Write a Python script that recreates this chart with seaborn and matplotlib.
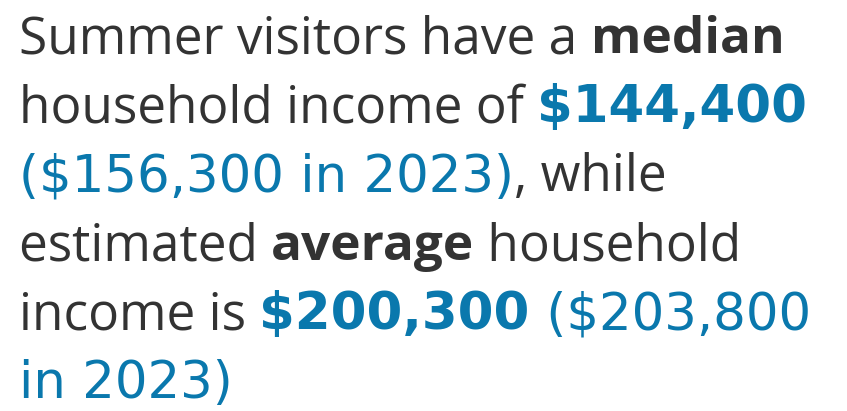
import matplotlib
matplotlib.use("Agg")
import matplotlib.pyplot as plt
import seaborn as sns

# values quoted in the callout
median_income = 144400
median_income_2023 = 156300
average_income = 200300
average_income_2023 = 203800

DARK = "#333333"
BLUE = "#0a78ad"


def money(v):
    return f"${v:,}"


# each line is a list of (text, weight, colour)
lines = [
    [("Summer visitors have a ", "normal", DARK), ("median", "bold", DARK)],
    [("household income of ", "normal", DARK), (money(median_income), "bold", BLUE)],
    [(f"({money(median_income_2023)} in 2023)", "normal", BLUE), (", while", "normal", DARK)],
    [("estimated ", "normal", DARK), ("average", "bold", DARK), (" household", "normal", DARK)],
    [("income is ", "normal", DARK), (money(average_income), "bold", BLUE),
     (f" ({money(average_income_2023)}", "normal", BLUE)],
    [("in 2023)", "normal", BLUE)],
]

sns.set_theme(style="white")
plt.rcParams["font.family"] = ["Open Sans", "DejaVu Sans"]
# the source face has wide geometric figures; DejaVu's digits are closer in width
NUM_FAMILY = ["DejaVu Sans"]

fig = plt.figure(figsize=(8.47, 4.11), dpi=100)
ax = fig.add_axes([0, 0, 1, 1])
ax.set_xlim(0, 847)
ax.set_ylim(411, 0)
ax.axis("off")

renderer = fig.canvas.get_renderer()
x0 = 19
y0 = 53
step = 69
size = 37

for i, segs in enumerate(lines):
    x = x0
    y = y0 + i * step
    for txt, weight, color in segs:
        kw = {}
        if color == BLUE:
            kw["family"] = NUM_FAMILY
        t = ax.text(x, y, txt, fontsize=size, fontweight=weight, color=color,
                    va="baseline", ha="left", **kw)
        bb = t.get_window_extent(renderer)
        x += bb.width

fig.savefig("out.png", dpi=100)
